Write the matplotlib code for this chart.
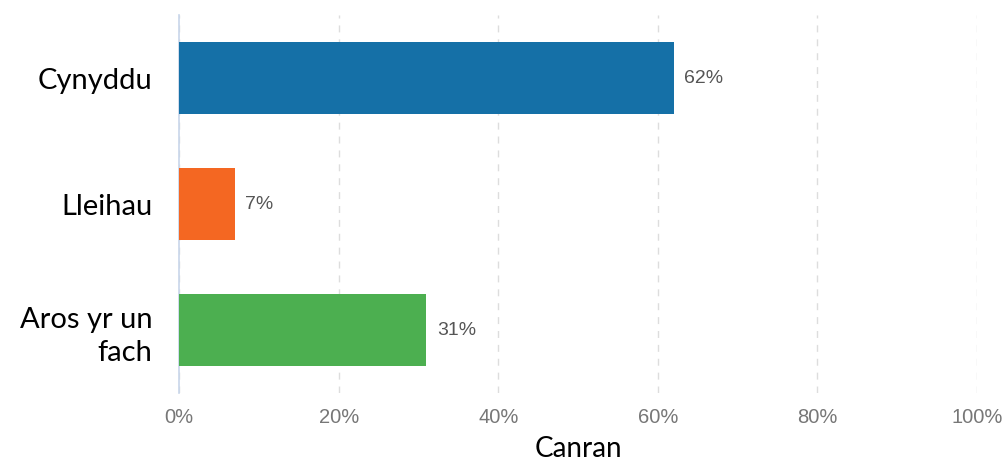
import matplotlib
matplotlib.use("Agg")
import matplotlib.pyplot as plt
from matplotlib.ticker import PercentFormatter

categories = ["Cynyddu", "Lleihau", "Aros yr un\nfach"]
values = [62, 7, 31]
colors = ["#1570a7", "#f46722", "#4caf50"]
ticks = [0, 20, 40, 60, 80, 100]

plt.rcParams["font.family"] = "Liberation Sans"

fig = plt.figure(figsize=(10.07, 4.65), dpi=100, facecolor="white")
ax = fig.add_axes([0.1778, 0.1548, 0.7925, 0.8129])

pos = list(range(len(categories)))
ax.barh(pos, values, height=0.57, color=colors, zorder=3)
for y, v in zip(pos, values):
    ax.text(v + 1.3, y, f"{v}%", va="center", ha="left", fontsize=14,
            color="#555555")

ax.set_xlim(0, 100)
ax.set_ylim(len(categories) - 0.5, -0.5)
ax.set_yticks(pos)
ax.set_yticklabels(categories, fontsize=21, family="Lato", ha="right",
                   linespacing=1.35)
ax.set_xticks(ticks)
ax.xaxis.set_major_formatter(PercentFormatter(decimals=0))
ax.tick_params(axis="x", length=0, pad=11, labelsize=14.5, labelcolor="#777777")
ax.tick_params(axis="y", length=0, pad=19)

ax.grid(axis="x", color="#dddddd", linestyle=(0, (5, 5)), linewidth=1, zorder=0)
ax.set_axisbelow(True)
for name, spine in ax.spines.items():
    spine.set_visible(name == "left")
ax.spines["left"].set_color("#c8d6ea")
ax.spines["left"].set_linewidth(1.2)

ax.set_xlabel("Canran", fontsize=20, family="Lato", labelpad=6)

fig.savefig("out.png", dpi=100, facecolor="white")
